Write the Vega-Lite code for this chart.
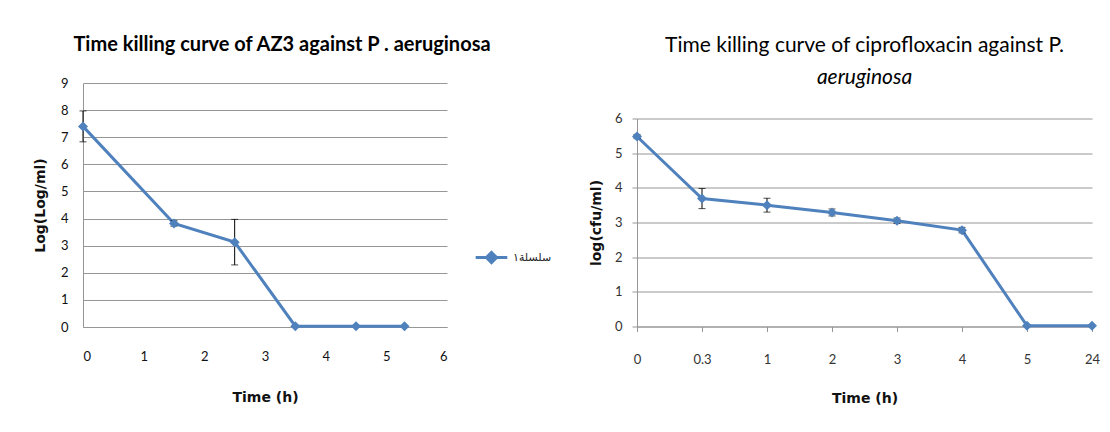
{
  "$schema": "https://vega.github.io/schema/vega-lite/v6.json",
  "background": "white",
  "padding": {"left": 33, "top": 34, "right": 5, "bottom": 5},
  "spacing": 37,
  "center": true,
  "config": {
    "view": {"stroke": null},
    "font": "Lato",
    "axis": {
      "domainColor": "#969696",
      "gridColor": "#969696",
      "tickColor": "#969696",
      "labelColor": "#111111",
      "labelFont": "Lato",
      "labelFontSize": 13,
      "titleFont": "DejaVu Sans",
      "titleFontSize": 14,
      "titleFontWeight": "bold",
      "titleColor": "#111111"
    }
  },
  "datasets": {
    "az3": [
      {"t": 0, "v": 7.4, "e": 0.57, "series": "سلسلة١"},
      {"t": 1.5, "v": 3.82, "e": 0.1, "series": "سلسلة١"},
      {"t": 2.5, "v": 3.13, "e": 0.84, "series": "سلسلة١"},
      {"t": 3.5, "v": 0.03, "e": 0, "series": "سلسلة١"},
      {"t": 4.5, "v": 0.03, "e": 0, "series": "سلسلة١"},
      {"t": 5.3, "v": 0.03, "e": 0, "series": "سلسلة١"}
    ],
    "cipro": [
      {"t": "0", "v": 5.48, "e": 0.06},
      {"t": "0.3", "v": 3.69, "e": 0.29},
      {"t": "1", "v": 3.5, "e": 0.2},
      {"t": "2", "v": 3.29, "e": 0.1},
      {"t": "3", "v": 3.05, "e": 0.08},
      {"t": "4", "v": 2.78, "e": 0.08},
      {"t": "5", "v": 0.02, "e": 0},
      {"t": "24", "v": 0.02, "e": 0}
    ]
  },
  "hconcat": [
    {
      "width": 364,
      "height": 244,
      "data": {"name": "az3"},
      "title": {
        "text": "Time killing curve of AZ3 against  P . aeruginosa",
        "font": "Lato",
        "fontSize": 20,
        "fontWeight": "bold",
        "color": "#000000",
        "offset": 22,
        "dx": 17
      },
      "encoding": {
        "x": {
          "field": "t",
          "type": "quantitative",
          "scale": {"domain": [0, 6], "nice": false},
          "axis": {
            "title": ["Time (h)", " "],
            "titleLineHeight": 37,
            "values": [0, 1, 2, 3, 4, 5, 6],
            "grid": false,
            "ticks": false,
            "labelPadding": 23,
            "titlePadding": 27
          }
        },
        "y": {
          "field": "v",
          "type": "quantitative",
          "scale": {"domain": [0, 9], "nice": false},
          "axis": {
            "title": "Log(Log/ml)",
            "values": [0, 1, 2, 3, 4, 5, 6, 7, 8, 9],
            "ticks": false,
            "labelPadding": 15,
            "titlePadding": 13
          }
        }
      },
      "layer": [
        {
          "mark": {"type": "line", "strokeWidth": 3},
          "encoding": {
            "color": {
              "field": "series",
              "type": "nominal",
              "scale": {"range": ["#4F81BD"]},
              "legend": {
                "title": null,
                "orient": "none",
                "legendX": 391,
                "legendY": 157,
                "symbolType": "M-1,0L1,0M0,-0.32L0.32,0L0,0.32L-0.32,0Z",
                "symbolSize": 1000,
                "symbolStrokeWidth": 3,
                "symbolFillColor": "#4F81BD",
                "labelFont": "DejaVu Sans",
                "labelFontSize": 11,
                "labelColor": "#222222"
              }
            }
          }
        },
        {
          "transform": [{"filter": "datum.e > 0"}],
          "mark": {"type": "errorbar", "color": "#000000", "thickness": 1, "ticks": {"size": 7, "thickness": 1}},
          "encoding": {
            "yError": {"field": "e"}
          }
        },
        {
          "mark": {"type": "point", "shape": "diamond", "filled": true, "size": 100, "opacity": 1},
          "encoding": {
            "color": {"field": "series", "type": "nominal", "scale": {"range": ["#4F81BD"]}}
          }
        }
      ]
    },
    {
      "width": 455,
      "height": 208,
      "data": {"name": "cipro"},
      "title": {
        "text": "Time killing curve of ciprofloxacin against P.",
        "subtitle": "aeruginosa",
        "font": "Lato",
        "fontSize": 21,
        "fontWeight": "normal",
        "color": "#000000",
        "subtitleFont": "Lato",
        "subtitleFontSize": 21,
        "subtitleFontStyle": "italic",
        "subtitleColor": "#000000",
        "subtitlePadding": 11,
        "offset": 25
      },
      "encoding": {
        "x": {
          "field": "t",
          "type": "ordinal",
          "sort": ["0", "0.3", "1", "2", "3", "4", "5", "24"],
          "scale": {"type": "point", "padding": 0},
          "axis": {
            "title": "Time  (h)",
            "labelAngle": 0,
            "labelColor": "#333333",
            "grid": false,
            "ticks": true,
            "tickSize": 5,
            "labelPadding": 22,
            "titlePadding": 25
          }
        },
        "y": {
          "field": "v",
          "type": "quantitative",
          "scale": {"domain": [0, 6], "nice": false},
          "axis": {
            "title": "log(cfu/ml)",
            "values": [0, 1, 2, 3, 4, 5, 6],
            "labelColor": "#333333",
            "tickSize": 5,
            "labelPadding": 10,
            "titlePadding": 11
          }
        }
      },
      "layer": [
        {"mark": {"type": "line", "strokeWidth": 3, "color": "#4F81BD"}},
        {
          "transform": [{"filter": "datum.e > 0"}],
          "mark": {"type": "errorbar", "color": "#000000", "thickness": 1, "ticks": {"size": 7, "thickness": 1}},
          "encoding": {"yError": {"field": "e"}}
        },
        {"mark": {"type": "point", "shape": "diamond", "filled": true, "size": 100, "opacity": 1, "color": "#4F81BD"}}
      ]
    }
  ],
  "resolve": {"scale": {"color": "independent"}, "legend": {"color": "independent"}}
}
